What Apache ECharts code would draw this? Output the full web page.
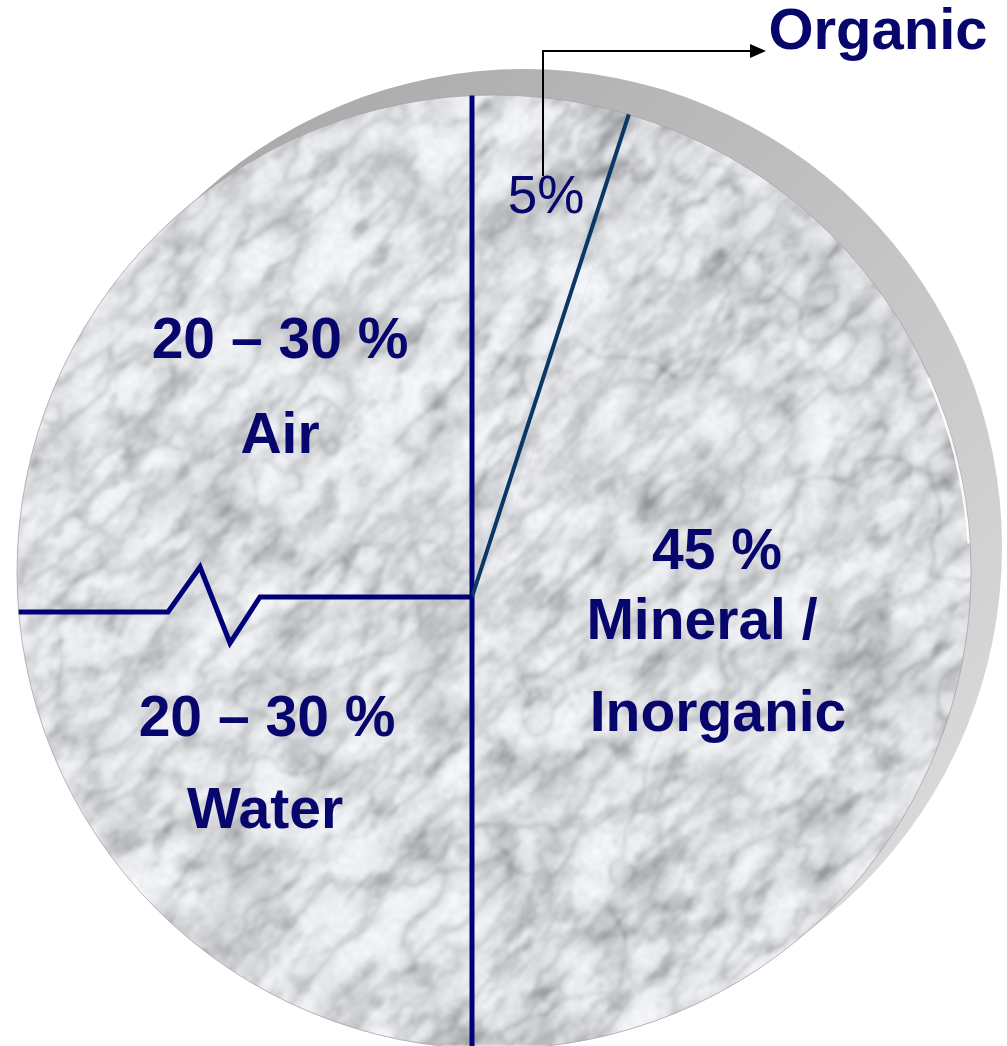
<!DOCTYPE html>
<html><head><meta charset="utf-8">
<script src="https://cdn.jsdelivr.net/npm/echarts@6/dist/echarts.min.js"></script>
<style>html,body{margin:0;padding:0;background:#fff;overflow:hidden}#c{width:1007px;height:1046px}</style>
</head><body><div id="c"></div>
<script>
// ---- data ----
const categories = ['Organic', 'Mineral / Inorganic', 'Water', 'Air'];
const values = [5, 45, 25, 25];
const valueLabels = ['5%', '45 %', '20 – 30 %', '20 – 30 %'];
const nameLabels = ['Organic', ['Mineral /', 'Inorganic'], 'Water', 'Air'];

// ---- layout / style ----
const W = 1007, H = 1046;
const C = [494, 572], R = 477;       // marble disk
const O = [472, 597];                // point where separators meet
const NAVY = '#00007a', TEXT = '#06066c';

// procedural marble texture (style only)
function hash(i, j) {
  let h = Math.imul(i, 374761393) + Math.imul(j, 668265263) | 0;
  h = Math.imul(h ^ (h >>> 13), 1274126177);
  h = h ^ (h >>> 16);
  return (h >>> 0) / 4294967296;
}
function vnoise(x, y) {
  const xi = Math.floor(x), yi = Math.floor(y), xf = x - xi, yf = y - yi;
  const u = xf * xf * (3 - 2 * xf), v = yf * yf * (3 - 2 * yf);
  const a = hash(xi, yi), b = hash(xi + 1, yi), c = hash(xi, yi + 1), d = hash(xi + 1, yi + 1);
  return a + (b - a) * u + (c - a) * v + (a - b - c + d) * u * v;
}
function fbm(x, y, oct) {
  let s = 0, amp = 0.5, f = 1, n = 0;
  for (let o = 0; o < oct; o++) { s += amp * vnoise(x * f + o * 17.3, y * f + o * 9.1); n += amp; amp *= 0.5; f *= 2; }
  return s / n;
}
function marble(w, h) {
  const k = 2;
  const sw = Math.ceil(w / k), sh = Math.ceil(h / k);
  const small = document.createElement('canvas'); small.width = sw; small.height = sh;
  const sg = small.getContext('2d');
  const img = sg.createImageData(sw, sh); const px = img.data;
  for (let y = 0; y < sh; y++) {
    for (let x = 0; x < sw; x++) {
      const X = x * k, Y = y * k;
      const along = (X - Y) * 0.7071, across = (X + Y) * 0.7071;
      const m = fbm(X / 55 + 2, Y / 55 + 4, 4);
      const cl = fbm(along / 30 + 8, across / 16 + 1, 4);
      const rf = fbm(along / 70 + 3, across / 30 + 7, 4);
      let ridge = 1 - Math.abs(2 * rf - 1); ridge = Math.pow(ridge, 5);
      const tb = fbm(X / 140 + 11, Y / 140 + 5, 4);
      let vein = 1 - Math.abs(Math.sin(across * 0.009 + tb * 7)); vein = Math.pow(vein, 8);
      const fine = fbm(X / 5, Y / 5, 2);
      const mm = Math.max(0, (m - 0.5) * 2.4);
      const cc = Math.max(0, (cl - 0.55) * 3.0);
      let g = 243 - 34 * mm - 45 * cc - 35 * vein * (0.3 + m) - 38 * ridge - 18 * (fine - 0.5);
      g = Math.max(130, Math.min(250, g));
      const i = (y * sw + x) * 4;
      px[i] = g; px[i + 1] = g + 1; px[i + 2] = Math.min(255, g + 5); px[i + 3] = 255;
    }
  }
  sg.putImageData(img, 0, 0);
  const cv = document.createElement('canvas'); cv.width = w; cv.height = h;
  const g2 = cv.getContext('2d'); g2.imageSmoothingEnabled = true;
  g2.filter = 'blur(1px)';
  g2.drawImage(small, 0, 0, w, h);
  g2.filter = 'none';
  return cv;
}
const tex = marble(W, H);

// distance from p along unit dir d until the disk edge
function hit(p, d) {
  const px = p[0] - C[0], py = p[1] - C[1];
  const b = d[0] * px + d[1] * py, c = px * px + py * py - R * R;
  return -b + Math.sqrt(b * b - c);
}
const total = values.reduce((a, b) => a + b, 0);
const bounds = []; let acc = 0;
values.forEach(v => { bounds.push(acc / total * 360); acc += v; });
const dirOf = deg => { const r = deg * Math.PI / 180; return [Math.sin(r), -Math.cos(r)]; };

const gfx = [];
// back shadow disk
gfx.push({ type: 'circle', z: 1, silent: true, shape: { cx: 524, cy: 547, r: 478 },
  style: { fill: new echarts.graphic.LinearGradient(0.2, 0, 1, 0.8, [{ offset: 0, color: '#a8a8a8' }, { offset: 1, color: '#dcdcdc' }]) } });
// disk outline & highlight
gfx.push({ type: 'circle', z: 5, silent: true, shape: { cx: C[0], cy: C[1], r: R }, style: { fill: null, stroke: 'rgba(165,165,170,0.8)', lineWidth: 1 } });
gfx.push({ type: 'arc', z: 5, silent: true, shape: { cx: C[0], cy: C[1], r: R - 1.5, startAngle: -0.42, endAngle: -0.06 }, style: { stroke: 'rgba(255,255,255,0.9)', lineWidth: 2.5, fill: null } });

// separators derived from slice boundaries
bounds.forEach((deg, i) => {
  const d = dirOf(deg);
  if (i === 3) {
    const n = [d[1], -d[0]];
    const pt = (s, off) => [O[0] + d[0] * s + n[0] * off, O[1] + d[1] * s + n[1] * off];
    const p4 = pt(304, 15);
    const sEnd = 304 + hit(p4, d);
    gfx.push({ type: 'polyline', z: 10, silent: true,
      shape: { points: [O, pt(212, 0), pt(242, 46), pt(272, -30), p4, pt(sEnd, 15)] },
      style: { stroke: NAVY, lineWidth: 5, fill: null, lineJoin: 'miter' } });
  } else {
    const t = hit(O, d);
    gfx.push({ type: 'line', z: 10, silent: true,
      shape: { x1: O[0], y1: O[1], x2: O[0] + d[0] * t, y2: O[1] + d[1] * t },
      style: { stroke: i === 1 ? '#0a3864' : NAVY, lineWidth: i === 1 ? 4 : 5 } });
  }
});

// labels
const txt = (text, x, y, size, bold) => gfx.push({ type: 'text', z: 12, silent: true, x, y,
  style: { text, fill: TEXT, font: `${bold ? 'bold ' : ''}${size}px "Liberation Sans", Arial, sans-serif`,
    align: 'center', verticalAlign: 'middle', textAlign: 'center', textVerticalAlign: 'middle' } });
txt(valueLabels[0], 546, 198, 53, false);
txt(nameLabels[0], 878, 33, 58, true);
txt(valueLabels[1], 717, 553, 57, true);
txt(nameLabels[1][0], 702, 623, 57, true);
txt(nameLabels[1][1], 718, 715, 57, true);
txt(valueLabels[2], 267, 720, 57, true);
txt(nameLabels[2], 265, 812, 57, true);
txt(valueLabels[3], 280, 342, 57, true);
txt(nameLabels[3], 280, 437, 57, true);
// callout arrow for Organic
gfx.push({ type: 'polyline', z: 12, silent: true, shape: { points: [[543, 176], [543, 51], [752, 51]] }, style: { stroke: '#000', lineWidth: 2, fill: null } });
gfx.push({ type: 'polygon', z: 12, silent: true, shape: { points: [[750, 44], [766, 51], [750, 58]] }, style: { fill: '#000' } });

const chart = echarts.init(document.getElementById('c'), null, { renderer: 'canvas' });
chart.setOption({
  animation: false,
  backgroundColor: '#ffffff',
  series: [{
    type: 'pie', silent: true, z: 2,
    center: C, radius: [0, R], startAngle: 90, clockwise: true,
    label: { show: false }, labelLine: { show: false },
    itemStyle: { color: { image: tex, repeat: 'repeat' }, borderWidth: 0 },
    data: categories.map((name, i) => ({ name, value: values[i] }))
  }],
  graphic: { elements: gfx }
});
</script>
</body></html>
